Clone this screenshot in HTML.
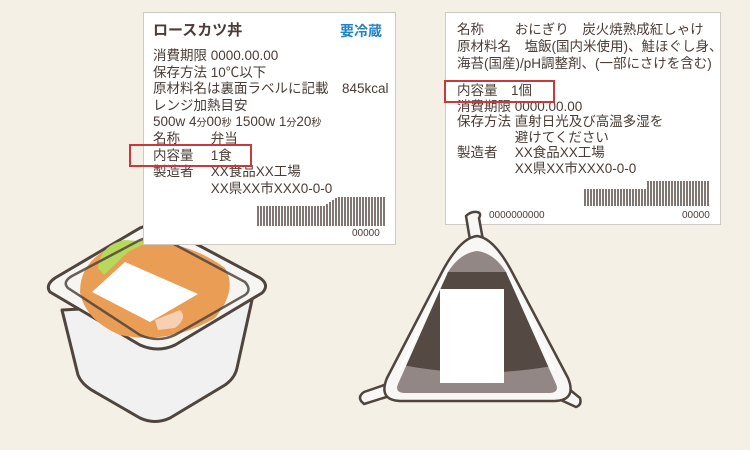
<!DOCTYPE html>
<html><head><meta charset="utf-8"><style>
body{margin:0;width:750px;height:450px;background:#f4f0e6;overflow:hidden;position:relative;font-family:"Liberation Sans","Noto Sans CJK JP",sans-serif;color:#4a3c36}
.lab{position:absolute;background:#fff;border:1px solid #cfcbc4;box-sizing:border-box}
.t{position:absolute;white-space:nowrap;font-size:13.5px;line-height:18px}
.t small{font-size:10px;line-height:10px}
.red{position:absolute;border:2px solid #c8383c;box-sizing:border-box}
</style></head><body>
<svg width="750" height="450" style="position:absolute;left:0;top:0">
<!-- bowl -->
<g stroke="#4f443e" stroke-width="3" stroke-linejoin="round">
<path d="M62,310 L78,375 Q82,385 95,392 L140,418 Q155,425 170,418 L225,385 Q235,378 237,368 L252,300 Z" fill="#f1f1f1"/>
<path d="M50,292 Q45,285 55,278 L140,228 Q155,222 170,230 L260,278 Q270,285 262,293 L175,345 Q158,353 140,345 Z" fill="#f7f5f2"/>
</g>
<path d="M80,292 Q80,262 110,248 L140,240 Q190,242 225,268 Q238,290 215,318 Q170,345 120,335 Q85,320 80,292Z" fill="#e99d55"/>
<path d="M98,268 Q100,245 125,240 L148,242 L128,252 L104,275Z" fill="#b7d85a"/>
<path d="M92,292 L125,262 L198,294 L150,322Z" fill="#fff"/>
<path d="M155,320 L180,310 Q188,318 175,328 L158,330Z" fill="#f7cfb3"/>
<path d="M68,288 Q62,282 72,276 L140,240 Q155,234 170,242 L245,282 Q252,290 245,295 L175,335 Q158,343 140,335 Z" fill="none" stroke="#4f443e" stroke-width="2.5" opacity=".85"/>
</svg>

<div class="lab" style="left:143px;top:12px;width:253px;height:233px"></div>
<div class="t" style="left:153px;top:22px;font-weight:bold;font-size:15px">ロースカツ丼</div>
<div class="t" style="left:340px;top:22px;font-weight:bold;font-size:14px;color:#1f84c6">要冷蔵</div>
<div class="t" style="left:153px;top:48px;line-height:16.6px">消費期限 0000.00.00<br>保存方法 10℃以下<br>原材料名は裏面ラベルに記載　845kcal<br>レンジ加熱目安<br>500w 4<small>分</small>00<small>秒</small> 1500w 1<small>分</small>20<small>秒</small><br>名称　　 弁当<br>内容量　 1食<br>製造者　 XX食品XX工場<br>　　　　 XX県XX市XXX0-0-0</div>
<svg style="position:absolute;left:257px;top:196px" width="130" height="32">
<g stroke="#4a3c36" stroke-width="1.4">
<path d="M1,10V30M4,10V30M7,10V30M10,10V30M13,10V30M16,10V30M19,10V30M22,10V30M25,10V30M28,10V30M31,10V30M34,10V30M37,10V30M40,10V30M43,10V30M46,10V30M49,10V30M52,10V30M55,10V30M58,10V30M61,10V30M64,10V30M67,10V30M70,8V30M73,6V30M76,4V30M79,2V30M82,1V30M85,1V30M88,1V30M91,1V30M94,1V30M97,1V30M100,1V30M103,1V30M106,1V30M109,1V30M112,1V30M115,1V30M118,1V30M121,1V30M124,1V30M127,1V30"/></g></svg>
<div class="t" style="left:352px;top:225px;font-size:10px">00000</div>
<div class="red" style="left:129px;top:144px;width:123px;height:23px"></div>

<div class="lab" style="left:445px;top:12px;width:276px;height:213px"></div>
<div class="t" style="left:457px;top:21px;font-size:13.5px;line-height:17px">名称　　 おにぎり　炭火焼熟成紅しゃけ<br>原材料名　塩飯(国内米使用)、鮭ほぐし身、<br>海苔(国産)/pH調整剤、(一部にさけを含む)</div>
<div class="t" style="left:457px;top:83px;font-size:13.5px;line-height:15.5px">内容量　1個<br>消費期限 0000.00.00<br>保存方法 直射日光及び高温多湿を<br>　　　　 避けてください<br>製造者　 XX食品XX工場<br>　　　　 XX県XX市XXX0-0-0</div>
<svg style="position:absolute;left:584px;top:179px" width="128" height="28">
<g stroke="#4a3c36" stroke-width="1.4">
<path d="M1,10V27M4,10V27M7,10V27M10,10V27M13,10V27M16,10V27M19,10V27M22,10V27M25,10V27M28,10V27M31,10V27M34,10V27M37,10V27M40,10V27M43,10V27M46,10V27M49,10V27M52,10V27M55,10V27M58,10V27M61,10V27M64,2V27M67,2V27M70,2V27M73,2V27M76,2V27M79,2V27M82,2V27M85,2V27M88,2V27M91,2V27M94,2V27M97,2V27M100,2V27M103,2V27M106,2V27M109,2V27M112,2V27M115,2V27M118,2V27M121,2V27M124,2V27"/></g></svg>
<div class="t" style="left:489px;top:207px;font-size:10px">0000000000</div>
<div class="t" style="left:682px;top:207px;font-size:10px">00000</div>
<div class="red" style="left:444px;top:80px;width:111px;height:23px"></div>

<svg width="750" height="450" style="position:absolute;left:0;top:0">
<defs>
<clipPath id="tri"><path d="M477,251 Q460,253 448,272 L398,384 Q394,393 406,393 L548,393 Q560,393 556,384 L506,272 Q494,253 477,251Z"/></clipPath>
</defs>
<g stroke="#4f443e" stroke-width="2.5" stroke-linejoin="round" fill="#f8f7f5">
<path d="M470,240 L466,216 Q471,211 477,212 Q482,213 479,218 L483,240Z"/>
<path d="M390,383 L364,392 Q358,396 361,401 L364,404 L396,394Z"/>
<path d="M564,385 L580,398 Q582,405 576,407 L552,396Z"/>
<path d="M477,236 Q460,238 442,272 L387,378 Q378,400 400,401 L555,401 Q577,400 568,378 L512,272 Q494,238 477,236Z"/>
</g>
<g clip-path="url(#tri)">
<rect x="380" y="245" width="200" height="155" fill="#928784"/>
<path d="M380,272 L580,272 L580,360 Q480,385 380,360Z" fill="#544943"/>
</g>
<path d="M446,274 L400,370 M508,274 L554,370" stroke="#fff" stroke-width="2"/>
<rect x="440" y="289" width="64" height="94" fill="#fff"/>
</svg>
</body></html>
